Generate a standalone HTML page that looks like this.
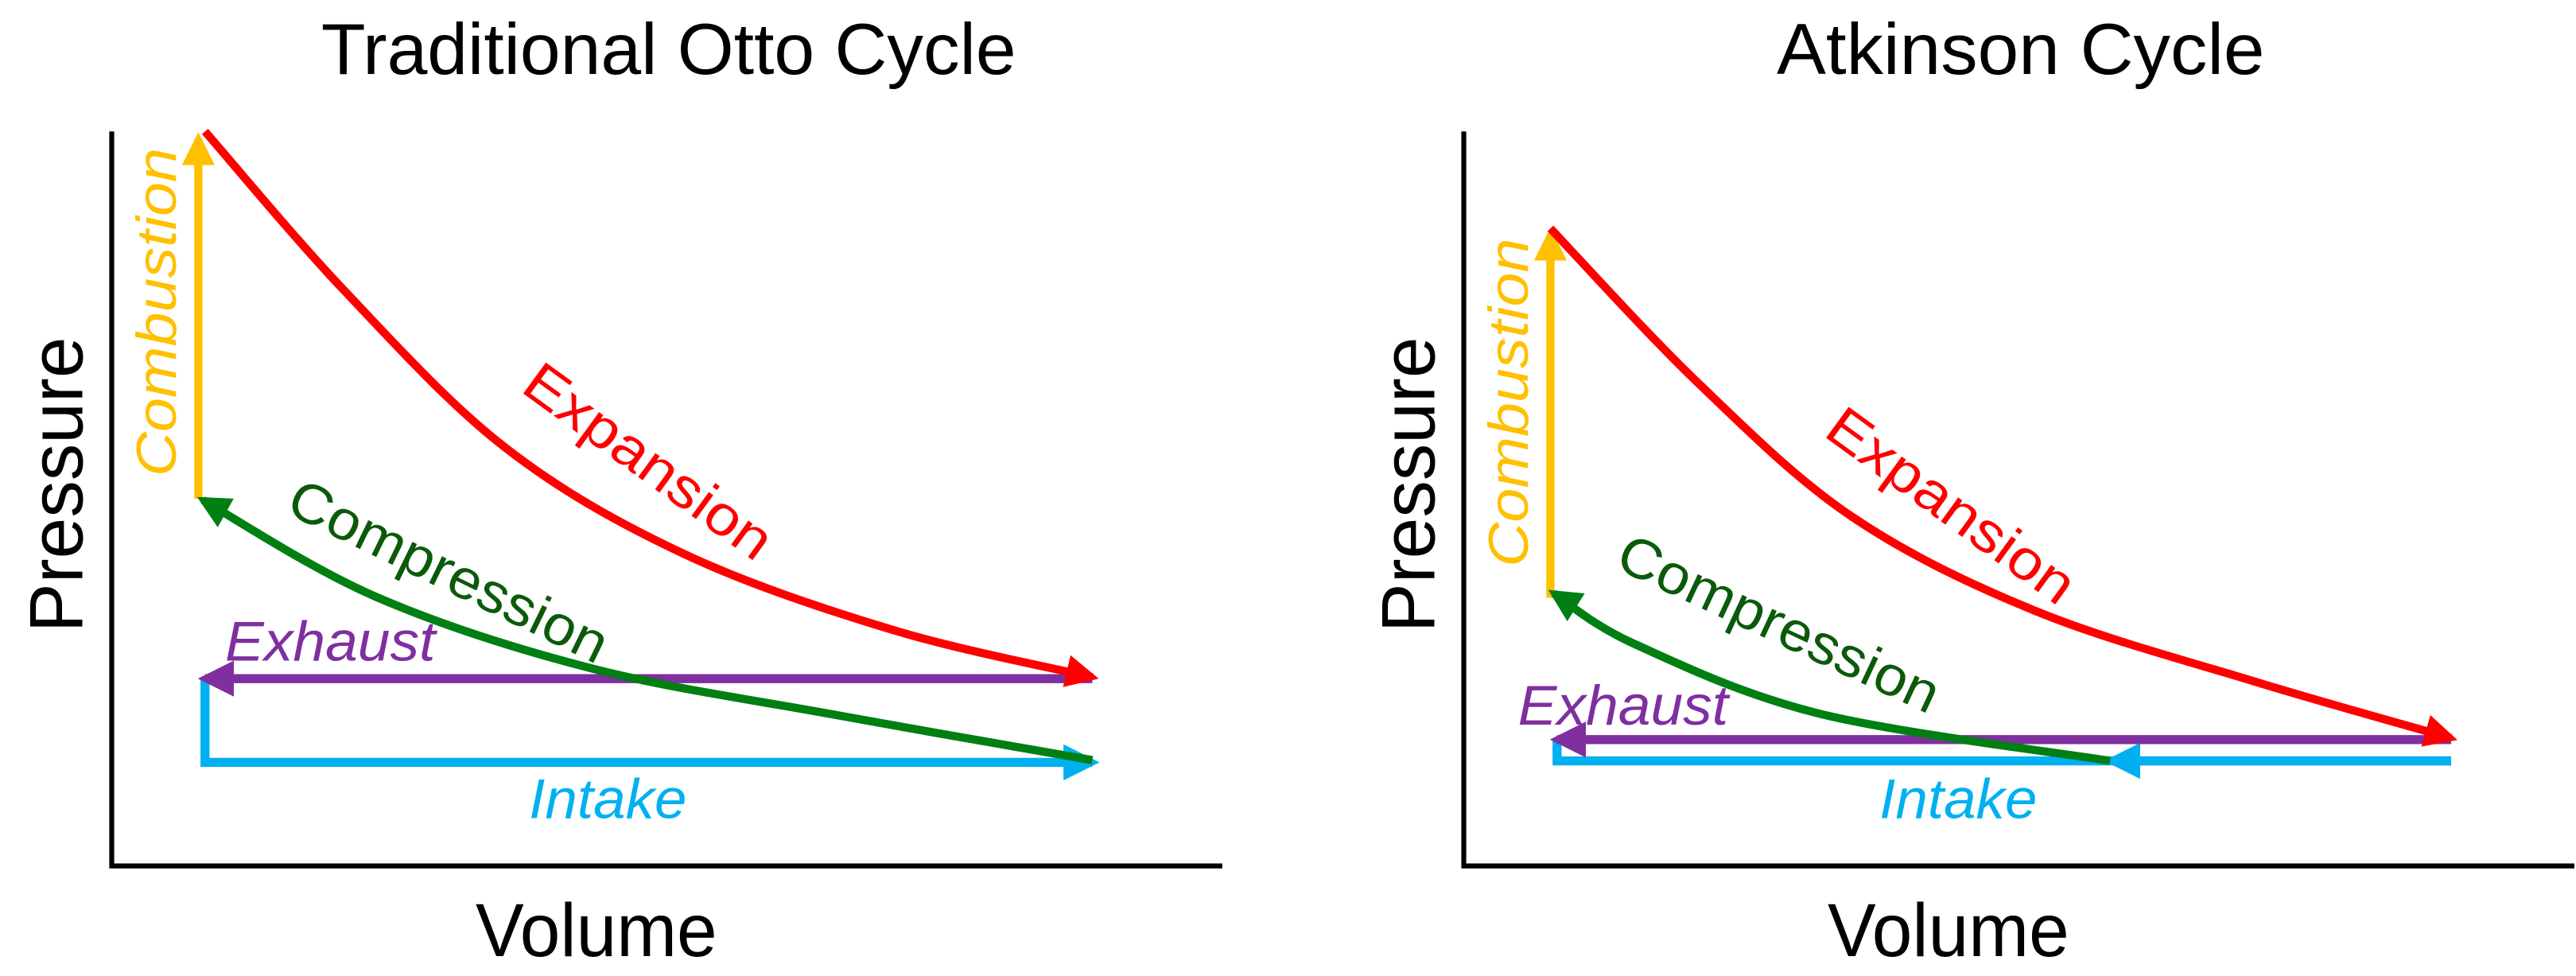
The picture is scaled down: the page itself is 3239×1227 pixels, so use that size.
<!DOCTYPE html>
<html><head><meta charset="utf-8"><style>
html,body{margin:0;padding:0;background:#fff;}
svg{display:block;}
text{font-family:"Liberation Sans Narrow","Liberation Sans",Arial,sans-serif;}
</style></head><body>
<svg id="chart" width="3239" height="1227" viewBox="0 0 1568 594" xmlns="http://www.w3.org/2000/svg">
<defs>
<marker id="mRed" viewBox="0 0 10 10" refX="8" refY="5" markerWidth="4" markerHeight="4" orient="auto" markerUnits="strokeWidth"><path d="M0,0 L10,5 L0,10 z" fill="#FF0000"/></marker>
<marker id="mGreen" viewBox="0 0 10 10" refX="8" refY="5" markerWidth="4" markerHeight="4" orient="auto" markerUnits="strokeWidth"><path d="M0,0 L10,5 L0,10 z" fill="#007F12"/></marker>
<marker id="mOrange" viewBox="0 0 10 10" refX="8" refY="5" markerWidth="4" markerHeight="4" orient="auto" markerUnits="strokeWidth"><path d="M0,0 L10,5 L0,10 z" fill="#FFC000"/></marker>
<marker id="mPurple" viewBox="0 0 10 10" refX="8" refY="5" markerWidth="4" markerHeight="4" orient="auto" markerUnits="strokeWidth"><path d="M0,0 L10,5 L0,10 z" fill="#7F2FA0"/></marker>
<marker id="mBlue" viewBox="0 0 10 10" refX="8" refY="5" markerWidth="4" markerHeight="4" orient="auto" markerUnits="strokeWidth"><path d="M0,0 L10,5 L0,10 z" fill="#00B0F0"/></marker>
</defs>
<g id="left"></g>
<g id="right"></g>
</svg>
<script>
// Otto cycle data (volume 0-100, pressure 0-100)
const ottoExpV = [8.4,20.9,35.4,51.5,70.4,88.3];
const ottoExpP = [100,78.4,57.0,42.5,32.1,25.7];
const ottoCompV = [88.3,65.4,43.2,23.7,8.2];
const ottoCompP = [14.4,20.5,26.9,36.7,49.8];
const ottoCombV = [7.8,7.8];
const ottoCombP = [50,99];
const ottoExhV = [88.3,8.4];
const ottoExhP = [25.5,25.5];
const ottoIntV = [8.4,8.4,88.3];
const ottoIntP = [25.5,14.1,14.1];
// Atkinson cycle data
const atkExpV = [7.8,21.0,34.9,51.5,71.0,88.9];
const atkExpP = [86.8,65.9,47.6,34.7,25.2,17.4];
const atkCompV = [58.2,32.1,15.4,8.1];
const atkCompP = [14.3,20.7,30.2,37.1];
const atkCombV = [7.8,7.8];
const atkCombP = [36.5,86];
const atkExhV = [88.9,8.4];
const atkExhP = [17.2,17.2];
const atkIntV = [8.4,8.4,88.9];
const atkIntP = [17.2,14.3,14.3];
const atkIntArrowV = [88.9,58.3];
const atkIntArrowP = [14.3,14.3];

const NS = "http://www.w3.org/2000/svg";
function mk(parent, tag, attrs, txt){
  const e = document.createElementNS(NS, tag);
  for (const k in attrs) e.setAttribute(k, attrs[k]);
  if (txt !== undefined) e.textContent = txt;
  parent.appendChild(e);
  return e;
}
function panel(gid, ox, title, titleLen, d){
  const g = document.getElementById(gid);
  const x = v => ox + v * 6.76;
  const y = p => 527 - p * 4.47;
  const smooth = (vs, ps) => {
    const pts = vs.map((v,i)=>[x(v), y(ps[i])]);
    let s = "M" + pts[0][0] + "," + pts[0][1];
    for (let i=0;i<pts.length-1;i++){
      const p0 = pts[Math.max(0,i-1)], p1 = pts[i], p2 = pts[i+1], p3 = pts[Math.min(pts.length-1,i+2)];
      const c1 = [p1[0]+(p2[0]-p0[0])/6, p1[1]+(p2[1]-p0[1])/6];
      const c2 = [p2[0]-(p3[0]-p1[0])/6, p2[1]-(p3[1]-p1[1])/6];
      s += " C"+c1[0]+","+c1[1]+" "+c2[0]+","+c2[1]+" "+p2[0]+","+p2[1];
    }
    return s;
  };
  const poly = (vs, ps) => "M" + vs.map((v,i)=>x(v)+","+y(ps[i])).join(" L");
  let e;
  e = mk(g,"text",{x:ox+339,y:45,"font-size":44,"text-anchor":"middle",fill:"#000",textLength:titleLen,lengthAdjust:"spacingAndGlyphs"},title);
  
  
  e = mk(g,"path",{d:"M"+ox+",80 L"+ox+",527 L"+(ox+676)+",527",fill:"none",stroke:"#000","stroke-width":3});
  
  
  e = mk(g,"text",{x:0,y:0,"font-size":46,"text-anchor":"middle",fill:"#000",textLength:180,lengthAdjust:"spacingAndGlyphs",transform:"translate("+(ox-18)+",295) rotate(-90)"},"Pressure");
  
  
  e = mk(g,"text",{x:ox+295,y:582,"font-size":46,"text-anchor":"middle",fill:"#000",textLength:147,lengthAdjust:"spacingAndGlyphs"},"Volume");
  
  

  e = mk(g,"path",{d:poly(d.intV,d.intP),fill:"none",stroke:"#00B0F0","stroke-width":5.5,"marker-end":d.intArrow?"":"url(#mBlue)"});
  
  
  if (d.intArrow){
    e = mk(g,"path",{d:poly(d.intArrow[0],d.intArrow[1]),fill:"none",stroke:"#00B0F0","stroke-width":5.5,"marker-end":"url(#mBlue)"});
    
    
  }
  e = mk(g,"path",{d:poly(d.exhV,d.exhP),fill:"none",stroke:"#7F2FA0","stroke-width":5.5,"marker-end":"url(#mPurple)"});
  
  
  e = mk(g,"path",{d:poly(d.combV,d.combP),fill:"none",stroke:"#FFC000","stroke-width":5,"marker-end":"url(#mOrange)"});
  
  
  e = mk(g,"path",{d:smooth(d.compV,d.compP),fill:"none",stroke:"#007F12","stroke-width":5,"marker-end":"url(#mGreen)"});
  
  
  e = mk(g,"path",{d:smooth(d.expV,d.expP),fill:"none",stroke:"#FF0000","stroke-width":5,"marker-end":"url(#mRed)"});
  
  

  const L = d.labels;
  e = mk(g,"text",{x:0,y:0,"font-size":34,"font-style":"italic","text-anchor":"middle",fill:"#FFC000",textLength:200,lengthAdjust:"spacingAndGlyphs",transform:"translate("+(ox+L.comb[0])+","+L.comb[1]+") rotate(-90)"},"Combustion");
  
  
  e = mk(g,"text",{x:0,y:0,"font-size":34,"text-anchor":"middle",fill:"#FF0000",textLength:178,lengthAdjust:"spacingAndGlyphs",transform:"translate("+(ox+L.exp[0])+","+L.exp[1]+") rotate("+L.exp[2]+")"},"Expansion");
  
  
  e = mk(g,"text",{x:0,y:0,"font-size":34,"text-anchor":"middle",fill:"#0A5A0A",textLength:212,lengthAdjust:"spacingAndGlyphs",transform:"translate("+(ox+L.comp[0])+","+L.comp[1]+") rotate("+L.comp[2]+")"},"Compression");
  
  
  e = mk(g,"text",{x:ox+L.exh[0],y:L.exh[1],"font-size":34,"font-style":"italic","text-anchor":"middle",fill:"#7F2FA0",textLength:128,lengthAdjust:"spacingAndGlyphs"},"Exhaust");
  
  
  e = mk(g,"text",{x:ox+L.int[0],y:L.int[1],"font-size":34,"font-style":"italic","text-anchor":"middle",fill:"#00B0F0",textLength:96,lengthAdjust:"spacingAndGlyphs"},"Intake");
  
  
}
panel("left", 68, "Traditional Otto Cycle", 423, {
  expV:ottoExpV, expP:ottoExpP, compV:ottoCompV, compP:ottoCompP,
  combV:ottoCombV, combP:ottoCombP, exhV:ottoExhV, exhP:ottoExhP,
  intV:ottoIntV, intP:ottoIntP, intArrow:null,
  labels:{comb:[39,190], exp:[320,290,36], comp:[200,358,26], exh:[133,402], int:[302,498]}
});
panel("right", 891, "Atkinson Cycle", 297, {
  expV:atkExpV, expP:atkExpP, compV:atkCompV, compP:atkCompP,
  combV:atkCombV, combP:atkCombP, exhV:atkExhV, exhP:atkExhP,
  intV:atkIntV, intP:atkIntP, intArrow:[atkIntArrowV, atkIntArrowP],
  labels:{comb:[39,245], exp:[290,317,36], comp:[187,390,25], exh:[97,441], int:[301,498]}
});
</script>
</body></html>
